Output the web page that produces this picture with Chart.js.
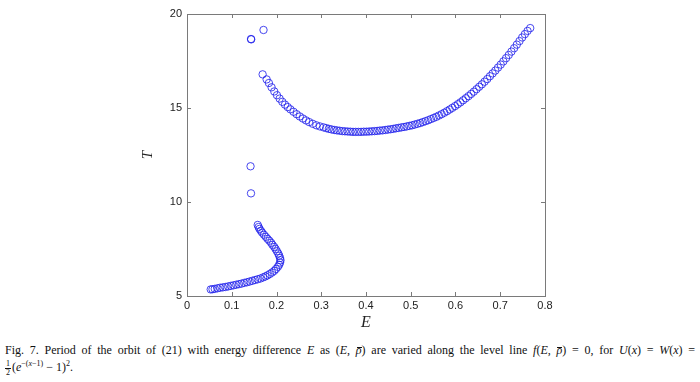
<!DOCTYPE html>
<html>
<head>
<meta charset="utf-8">
<script src="https://cdn.jsdelivr.net/npm/chart.js@4"></script>
<style>
  html, body { margin: 0; padding: 0; background: #fff; }
  #wrap { position: relative; width: 700px; height: 382px; overflow: hidden; }
  #plot { position: absolute; left: 0; top: 0; width: 700px; height: 340px; }
  .cap { position: absolute; left: 5px; width: 690px; font-family: "Liberation Serif", "Times New Roman", serif; font-size: 12px; color: #111; white-space: nowrap; }
  #cap1 { top: 343px; text-align: justify; text-align-last: justify; }
  #cap2 { top: 360px; }
  .i { font-style: italic; }
  .bar { position: relative; }
  .bar::after { content: ''; position: absolute; left: 1px; right: 0; top: 3.5px; border-top: 0.8px solid #111; }
  .frac { display: inline-block; vertical-align: middle; text-align: center; font-size: 8px; line-height: 8px; margin-right: 1px; }
  .frac span { display: block; }
  .frac .num { border-bottom: 0.6px solid #111; padding: 0 1px; }
  sup { font-size: 8px; vertical-align: 5px; line-height: 0; }
</style>
</head>
<body>
<div id="wrap">
  <div id="plot"><canvas id="c"></canvas></div>
  <div class="cap" id="cap1">Fig. 7. Period of the orbit of (21) with energy difference <span class="i">E</span> as (<span class="i">E</span>, <span class="i bar">ρ</span>) are varied along the level line <span class="i">f</span>(<span class="i">E</span>, <span class="i bar">ρ</span>) = 0, for <span class="i">U</span>(<span class="i">x</span>) = <span class="i">W</span>(<span class="i">x</span>) =</div>
  <div class="cap" id="cap2"><span class="frac"><span class="num">1</span><span>2</span></span>(<span class="i">e</span><sup>−(<span class="i">x</span>−1)</sup> − 1)<sup>2</sup>.</div>
</div>
<script>
// ---- data ----
const lowerE = [0.053,0.057,0.062,0.068,0.074,0.080,0.086,0.092,0.098,0.104,0.110,0.116,0.122,0.128,0.134,0.140,0.146,0.152,0.158,0.164,0.170,0.175,0.180,0.185,0.190,0.195,0.199,0.203,0.206,0.208,0.209,0.208,0.206,0.204,0.201,0.198,0.195,0.191,0.188,0.184,0.180,0.176,0.172,0.168,0.165,0.162,0.160,0.158];
const lowerT = [5.35,5.36,5.38,5.41,5.44,5.46,5.48,5.51,5.54,5.57,5.60,5.63,5.66,5.70,5.73,5.77,5.81,5.85,5.89,5.93,5.99,6.04,6.10,6.17,6.25,6.34,6.44,6.55,6.66,6.78,6.90,7.02,7.14,7.26,7.38,7.50,7.61,7.72,7.83,7.94,8.04,8.15,8.26,8.37,8.47,8.57,8.67,8.78];

const upperE = [0.169,0.178,0.183,0.189,0.195,0.201,0.207,0.213,0.219,0.225,0.231,0.238,0.245,0.252,0.259,0.266,0.273,0.281,0.289,0.297,
  0.305,0.311,0.317,0.323,0.329,0.335,0.341,0.347,0.353,0.359,0.365,0.371,0.377,0.383,0.389,0.395,0.401,0.407,0.413,0.419,0.425,0.431,0.437,0.443,0.449,0.455,0.461,0.467,0.473,0.479,0.485,0.491,0.497,0.503,0.509,0.515,0.521,0.527,0.533,0.539,0.545,0.551,0.557,0.563,0.569,0.575,0.581,0.587,0.593,0.599,0.605,0.611,0.617,0.623,0.629,0.635,0.641,0.647,0.653,0.659,0.665,0.671,0.677,0.683,0.689,0.695,0.701,0.707,0.713,0.719,0.725,0.731,0.737,0.743,0.749,0.755,0.761,0.767];
const upperT = [16.79,16.52,16.33,16.10,15.88,15.68,15.50,15.33,15.18,15.05,14.93,14.80,14.67,14.55,14.44,14.34,14.25,14.16,14.08,14.02,
  13.97,13.93,13.89,13.86,13.83,13.81,13.79,13.77,13.76,13.75,13.74,13.73,13.73,13.73,13.73,13.74,13.74,13.75,13.76,13.77,13.78,13.80,13.81,13.83,13.85,13.87,13.89,13.92,13.94,13.97,13.99,14.02,14.05,14.08,14.12,14.16,14.20,14.25,14.30,14.35,14.41,14.47,14.53,14.60,14.67,14.75,14.83,14.92,15.01,15.10,15.20,15.30,15.41,15.52,15.63,15.75,15.87,16.00,16.13,16.26,16.40,16.54,16.69,16.84,16.99,17.15,17.31,17.48,17.65,17.82,18.00,18.18,18.37,18.56,18.75,18.93,19.10,19.25];

const extraE = [0.142,0.143,0.143,0.1435,0.171];
const extraT = [11.90,10.46,18.67,18.65,19.15];

const xTickLabels = ['0','0.1','0.2','0.3','0.4','0.5','0.6','0.7','0.8'];
const yTickLabels = ['5','10','15','20'];

// ---- build ----
function pts(E, T) { return E.map((e, i) => ({ x: e, y: T[i] })); }
const allPoints = [].concat(pts(lowerE, lowerT), pts(extraE, extraT), pts(upperE, upperT));

const frameTicks = {
  id: 'frameTicks',
  afterDraw(chart) {
    const { ctx, chartArea: a, scales: { x, y } } = chart;
    ctx.save();
    ctx.strokeStyle = '#7a7a7a';
    ctx.lineWidth = 1;
    ctx.strokeRect(Math.round(a.left) + 0.5, Math.round(a.top) + 0.5, Math.round(a.right - a.left), Math.round(a.bottom - a.top));
    const L = 4;
    ctx.beginPath();
    x.ticks.forEach(t => {
      const px = Math.round(x.getPixelForValue(t.value)) + 0.5;
      ctx.moveTo(px, a.bottom); ctx.lineTo(px, a.bottom - L);
      ctx.moveTo(px, a.top); ctx.lineTo(px, a.top + L);
    });
    y.ticks.forEach(t => {
      const py = Math.round(y.getPixelForValue(t.value)) + 0.5;
      ctx.moveTo(a.left, py); ctx.lineTo(a.left + L, py);
      ctx.moveTo(a.right, py); ctx.lineTo(a.right - L, py);
    });
    ctx.stroke();
    ctx.restore();
  }
};

new Chart(document.getElementById('c'), {
  type: 'scatter',
  data: {
    datasets: [{
      data: allPoints,
      pointStyle: 'circle',
      pointRadius: 3.7,
      pointBorderWidth: 0.9,
      borderColor: 'rgba(30,30,235,0.9)',
      backgroundColor: 'rgba(0,0,0,0)',
      pointHoverRadius: 3.7
    }]
  },
  options: {
    responsive: true,
    maintainAspectRatio: false,
    animation: false,
    events: [],
    layout: { padding: { left: 130, right: 155, top: 14, bottom: 0 } },
    plugins: { legend: { display: false }, tooltip: { enabled: false } },
    scales: {
      x: {
        type: 'linear', min: 0, max: 0.8,
        afterFit(s) { s.height = 44; },
        afterBuildTicks(s) { s.ticks = xTickLabels.map((l, i) => ({ value: Number(l) })); },
        ticks: {
          autoSkip: false,
          maxRotation: 0,
          padding: 3,
          color: '#222',
          font: { family: '"Liberation Sans", Arial, sans-serif', size: 11 },
          callback: (v, i) => xTickLabels[i]
        },
        grid: { display: false, drawTicks: false },
        border: { display: false },
        title: {
          display: true, text: 'E', color: '#222',
          font: { family: '"Liberation Serif", "Times New Roman", serif', size: 16, style: 'italic' },
          padding: { top: 0, bottom: 8 }
        }
      },
      y: {
        type: 'linear', min: 5, max: 20,
        afterFit(s) { s.width = 57; },
        afterBuildTicks(s) { s.ticks = yTickLabels.map(l => ({ value: Number(l) })); },
        ticks: {
          autoSkip: false,
          padding: 5,
          color: '#222',
          font: { family: '"Liberation Sans", Arial, sans-serif', size: 11 },
          callback: (v, i) => yTickLabels[i]
        },
        grid: { display: false, drawTicks: false },
        border: { display: false },
        title: {
          display: true, text: 'T', color: '#222',
          font: { family: '"Liberation Serif", "Times New Roman", serif', size: 15, style: 'italic' },
          padding: { top: 9, bottom: 0 }
        }
      }
    }
  },
  plugins: [frameTicks]
});
</script>
</body>
</html>
